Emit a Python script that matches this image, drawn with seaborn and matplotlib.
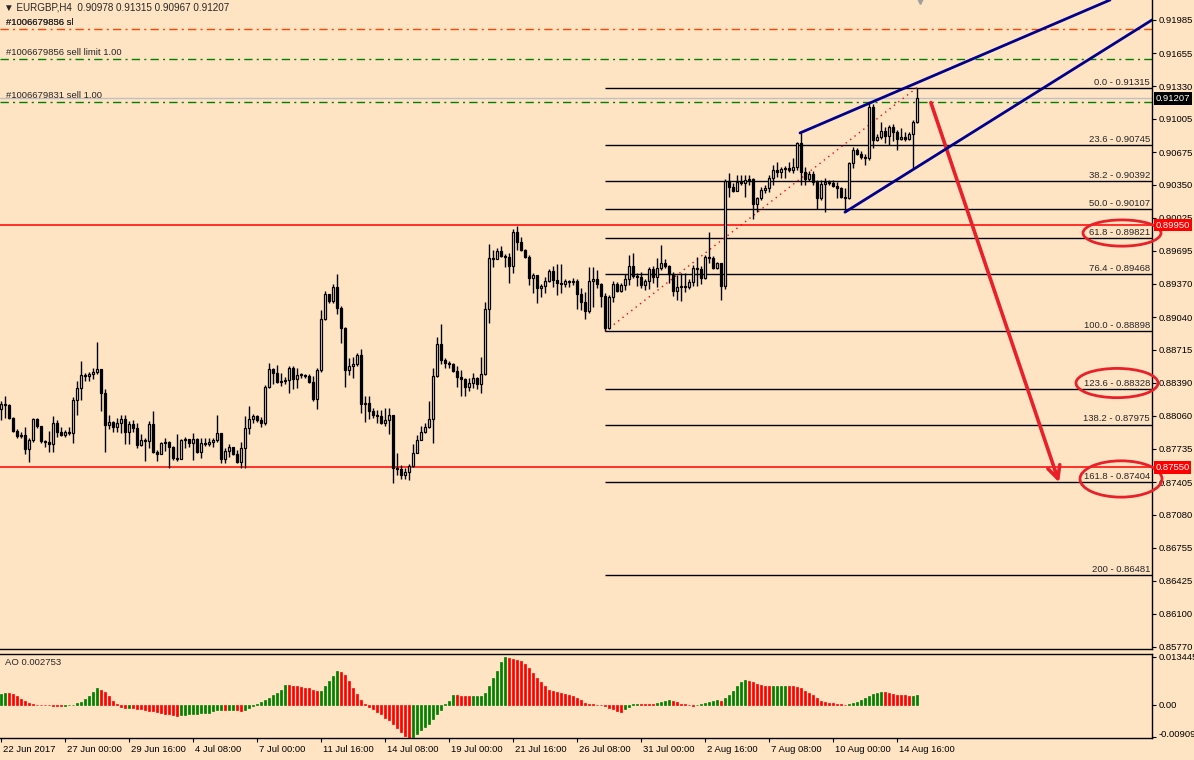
import numpy as np
import pandas as pd
import seaborn as sns
import matplotlib.pyplot as plt
from matplotlib.patches import Ellipse
from matplotlib import transforms

# EURGBP H4, 22 Jun 2017 08:00 .. 15 Aug 2017 12:00 (one value per bar)
open0 = 0.8813
close = [
    0.8818, 0.8817, 0.8804, 0.8791, 0.8786, 0.8787, 0.8773, 0.8782, 0.8803, 0.8796,
    0.8781, 0.8780, 0.8778, 0.8799, 0.8790, 0.8787, 0.8790, 0.8789, 0.8822, 0.8834,
    0.8847, 0.8846, 0.8848, 0.8850, 0.8853, 0.8829, 0.8797, 0.8800, 0.8795, 0.8799,
    0.8803, 0.8790, 0.8798, 0.8794, 0.8777, 0.8782, 0.8781, 0.8798, 0.8770, 0.8768,
    0.8779, 0.8780, 0.8775, 0.8764, 0.8763, 0.8782, 0.8783, 0.8779, 0.8783, 0.8770,
    0.8779, 0.8778, 0.8780, 0.8782, 0.8789, 0.8763, 0.8771, 0.8775, 0.8768, 0.8760,
    0.8774, 0.8794, 0.8803, 0.8806, 0.8802, 0.8799, 0.8835, 0.8853, 0.8849, 0.8840,
    0.8841, 0.8842, 0.8854, 0.8843, 0.8847, 0.8847, 0.8846, 0.8840, 0.8823, 0.8852,
    0.8902, 0.8927, 0.8920, 0.8934, 0.8913, 0.8893, 0.8852, 0.8855, 0.8857, 0.8866,
    0.8818, 0.8819, 0.8811, 0.8807, 0.8806, 0.8799, 0.8802, 0.8807, 0.8754, 0.8753,
    0.8747, 0.8750, 0.8756, 0.8769, 0.8782, 0.8790, 0.8795, 0.8803, 0.8846, 0.8877,
    0.8861, 0.8858, 0.8857, 0.8851, 0.8845, 0.8843, 0.8835, 0.8839, 0.8844, 0.8838,
    0.8848, 0.8912, 0.8963, 0.8962, 0.8969, 0.8965, 0.8964, 0.8955, 0.8988, 0.8978,
    0.8970, 0.8964, 0.8943, 0.8946, 0.8933, 0.8935, 0.8940, 0.8950, 0.8941, 0.8938,
    0.8937, 0.8940, 0.8939, 0.8940, 0.8927, 0.8919, 0.8910, 0.8940, 0.8942, 0.8937,
    0.8925, 0.8893, 0.8924, 0.8937, 0.8930, 0.8936, 0.8942, 0.8955, 0.8945, 0.8944,
    0.8936, 0.8940, 0.8952, 0.8944, 0.8953, 0.8958, 0.8955, 0.8947, 0.8930, 0.8934,
    0.8935, 0.8934, 0.8939, 0.8953, 0.8952, 0.8943, 0.8964, 0.8963, 0.8953, 0.8958,
    0.8935, 0.9039, 0.9033, 0.9029, 0.9038, 0.9037, 0.9040, 0.9041, 0.9016, 0.9022,
    0.9030, 0.9032, 0.9042, 0.9050, 0.9048, 0.9051, 0.9052, 0.9050, 0.9053, 0.9077,
    0.9048, 0.9041, 0.9046, 0.9038, 0.9022, 0.9036, 0.9038, 0.9037, 0.9034, 0.9032,
    0.9023, 0.9022, 0.9057, 0.9070, 0.9066, 0.9063, 0.9062, 0.9112, 0.9080, 0.9082,
    0.9088, 0.9083, 0.9092, 0.9087, 0.9081, 0.9082, 0.9081, 0.9085, 0.90978, 0.91207,
]
high = [
    0.8821, 0.8826, 0.8818, 0.8805, 0.8793, 0.8790, 0.8795, 0.8784, 0.8804, 0.8804,
    0.8792, 0.8782, 0.8791, 0.8806, 0.8802, 0.8795, 0.8792, 0.8795, 0.8825, 0.8841,
    0.8860, 0.8849, 0.8850, 0.8854, 0.8879, 0.8853, 0.8833, 0.8807, 0.8801, 0.8804,
    0.8807, 0.8807, 0.8801, 0.8802, 0.8799, 0.8788, 0.8784, 0.8801, 0.8811, 0.8772,
    0.8780, 0.8784, 0.8781, 0.8776, 0.8788, 0.8783, 0.8785, 0.8782, 0.8789, 0.8784,
    0.8784, 0.8784, 0.8784, 0.8784, 0.8807, 0.8789, 0.8774, 0.8778, 0.8775, 0.8772,
    0.8780, 0.8806, 0.8816, 0.8808, 0.8807, 0.8805, 0.8837, 0.8858, 0.8854, 0.8856,
    0.8849, 0.8845, 0.8855, 0.8855, 0.8854, 0.8849, 0.8848, 0.8848, 0.8846, 0.8854,
    0.8911, 0.8930, 0.8927, 0.8937, 0.8947, 0.8915, 0.8894, 0.8863, 0.8864, 0.8868,
    0.8872, 0.8826, 0.8826, 0.8814, 0.8812, 0.8812, 0.8814, 0.8814, 0.8807, 0.8769,
    0.8757, 0.8754, 0.8758, 0.8778, 0.8787, 0.8796, 0.8799, 0.8821, 0.8854, 0.8884,
    0.8897, 0.8863, 0.8860, 0.8858, 0.8855, 0.8852, 0.8844, 0.8844, 0.8849, 0.8845,
    0.8864, 0.8919, 0.8976, 0.8970, 0.8972, 0.8974, 0.8967, 0.8968, 0.8991, 0.8994,
    0.8983, 0.8971, 0.8966, 0.8948, 0.8946, 0.8937, 0.8944, 0.8952, 0.8955, 0.8957,
    0.8957, 0.8942, 0.8941, 0.8943, 0.8942, 0.8933, 0.8929, 0.8954, 0.8954, 0.8951,
    0.8938, 0.8928, 0.8926, 0.8940, 0.8939, 0.8938, 0.8947, 0.8966, 0.8968, 0.8948,
    0.8949, 0.8942, 0.8954, 0.8955, 0.8963, 0.8975, 0.8962, 0.8956, 0.8949, 0.8946,
    0.8948, 0.8948, 0.8942, 0.8956, 0.8964, 0.8955, 0.8966, 0.8988, 0.8965, 0.8959,
    0.8958, 0.9041, 0.9047, 0.9037, 0.9045, 0.9045, 0.9045, 0.9045, 0.9042, 0.9023,
    0.9033, 0.9035, 0.9045, 0.9055, 0.9058, 0.9053, 0.9054, 0.9058, 0.9062, 0.9078,
    0.9086, 0.9053, 0.9049, 0.9049, 0.9040, 0.9040, 0.9042, 0.9040, 0.9040, 0.9038,
    0.9033, 0.9032, 0.9058, 0.9073, 0.9072, 0.9069, 0.9066, 0.9116, 0.9115, 0.9085,
    0.9097, 0.9092, 0.9094, 0.9095, 0.9089, 0.9091, 0.9087, 0.9087, 0.9099, 0.91315,
]
low = [
    0.8802, 0.8804, 0.8803, 0.8790, 0.8784, 0.8784, 0.8768, 0.8760, 0.8780, 0.8794,
    0.8779, 0.8775, 0.8770, 0.8770, 0.8785, 0.8786, 0.8785, 0.8787, 0.8779, 0.8807,
    0.8822, 0.8841, 0.8841, 0.8843, 0.8848, 0.8811, 0.8770, 0.8793, 0.8790, 0.8790,
    0.8789, 0.8778, 0.8778, 0.8790, 0.8774, 0.8776, 0.8761, 0.8774, 0.8769, 0.8761,
    0.8770, 0.8771, 0.8754, 0.8762, 0.8761, 0.8764, 0.8774, 0.8775, 0.8762, 0.8769,
    0.8764, 0.8776, 0.8776, 0.8775, 0.8780, 0.8759, 0.8759, 0.8765, 0.8767, 0.8759,
    0.8754, 0.8754, 0.8788, 0.8799, 0.8800, 0.8795, 0.8797, 0.8834, 0.8838, 0.8839,
    0.8836, 0.8838, 0.8829, 0.8833, 0.8834, 0.8844, 0.8844, 0.8839, 0.8821, 0.8813,
    0.8850, 0.8901, 0.8918, 0.8918, 0.8907, 0.8878, 0.8835, 0.8847, 0.8844, 0.8855,
    0.8809, 0.8800, 0.8803, 0.8804, 0.8799, 0.8798, 0.8796, 0.8788, 0.8740, 0.8747,
    0.8743, 0.8743, 0.8742, 0.8755, 0.8769, 0.8782, 0.8789, 0.8794, 0.8779, 0.8845,
    0.8857, 0.8854, 0.8854, 0.8850, 0.8835, 0.8826, 0.8826, 0.8831, 0.8834, 0.8833,
    0.8829, 0.8847, 0.8898, 0.8954, 0.8962, 0.8964, 0.8954, 0.8938, 0.8948, 0.8970,
    0.8969, 0.8963, 0.8936, 0.8928, 0.8918, 0.8924, 0.8928, 0.8939, 0.8934, 0.8926,
    0.8928, 0.8934, 0.8934, 0.8936, 0.8912, 0.8911, 0.8902, 0.8908, 0.8914, 0.8933,
    0.8914, 0.88898, 0.8892, 0.8919, 0.8929, 0.8929, 0.8931, 0.8936, 0.8943, 0.8935,
    0.8933, 0.8931, 0.8932, 0.8938, 0.8934, 0.8951, 0.8953, 0.8938, 0.8925, 0.8921,
    0.8920, 0.8929, 0.8932, 0.8935, 0.8935, 0.8937, 0.8942, 0.8958, 0.8952, 0.8952,
    0.8921, 0.8932, 0.9023, 0.9028, 0.9030, 0.9035, 0.9023, 0.9035, 0.9001, 0.9008,
    0.9020, 0.9027, 0.9028, 0.9035, 0.9043, 0.9042, 0.9042, 0.9048, 0.9047, 0.9050,
    0.9035, 0.9035, 0.9039, 0.9035, 0.9011, 0.9020, 0.9008, 0.9035, 0.9033, 0.9022,
    0.9022, 0.9008, 0.9021, 0.9052, 0.9065, 0.9061, 0.9055, 0.9060, 0.9072, 0.9079,
    0.9081, 0.9077, 0.9075, 0.9079, 0.9070, 0.9080, 0.9079, 0.9080, 0.9052, 0.90967,
]
# Awesome Oscillator, in units of 1e-4
ao_e4 = [
    31, 34, 33, 30, 24, 18, 11, 7, 3, 1,
    0.3, -0.3, -1, -2, -3, -3.3, -2, -1, 1, 5,
    9, 17, 26, 36, 47, 43, 36, 24, 12, 3,
    -6, -8, -7, -8.5, -10, -12, -14, -16, -18, -20,
    -22, -24, -26, -29, -30, -28, -27, -26, -25, -24,
    -23, -22, -21, -18, -15, -14, -15, -14, -13, -15,
    -16, -13, -8, -3, 4, 8, 14, 21, 28, 35,
    42, 56, 55, 54, 53, 51, 49, 47, 42, 38,
    40, 52, 66, 80, 94, 93, 83, 66, 47, 30,
    14, 3, -5, -11, -19, -26, -35, -42, -52, -63,
    -75, -86, -91, -90, -80, -70, -61, -52, -38, -26,
    -14, 3, 11, 29, 28.5, 25, 24.5, 24, 25, 25.5,
    26, 33, 52, 75, 94, 120, 134.45, 132, 130, 127,
    122, 115, 103, 91, 77, 64, 52, 42, 39, 37,
    35, 32, 28, 24, 19, 13, 7, 3, 2, 1,
    -1, -3, -7, -12, -16, -18.5, -12.5, -6, 2.5, 3.4,
    3.0, 2.6, 2.4, 2.1, 5, 8.4, 11.8, 13.4, 10.9, 7.6,
    4.2, 1.7, -0.8, -1.7, -0.9, 1.7, 5, 8.4, 10.9, 13.4,
    12.6, 19.3, 27.7, 40.3, 52.9, 65.5, 69.7, 68, 63.8, 59.6,
    56.3, 52.9, 52.1, 52.9, 53.8, 54.2, 54.6, 53.8, 52.9, 50.4,
    47, 40.3, 33.6, 26.9, 18.5, 11.8, 7.6, 5.9, 5, 4.2,
    2.5, -0.8, 1.7, 5, 8.4, 13.4, 20.2, 26, 30.2, 32.8,
    36.1, 35.3, 33.6, 30.2, 28.6, 27.7, 26.9, 24.4, 26, 27.53,
]

date_bars = [0, 16, 32, 48, 64, 80, 96, 112, 128, 144, 160, 176, 192, 208, 224]
date_labels = ["22 Jun 2017", "27 Jun 00:00", "29 Jun 16:00", "4 Jul 08:00", "7 Jul 00:00",
               "11 Jul 16:00", "14 Jul 08:00", "19 Jul 00:00", "21 Jul 16:00", "26 Jul 08:00",
               "31 Jul 00:00", "2 Aug 16:00", "7 Aug 08:00", "10 Aug 00:00", "14 Aug 16:00"]
price_ticks = [0.91985, 0.91655, 0.91330, 0.91005, 0.90675, 0.90350, 0.90025, 0.89695, 0.89370,
               0.89040, 0.88715, 0.88390, 0.88060, 0.87735, 0.87405, 0.87080, 0.86755, 0.86425,
               0.86100, 0.85770]
fib_names = ["0.0", "23.6", "38.2", "50.0", "61.8", "76.4", "100.0", "123.6", "138.2", "161.8", "200"]
fib_prices = [0.91315, 0.90745, 0.90392, 0.90107, 0.89821, 0.89468, 0.88898, 0.88328, 0.87975,
              0.87404, 0.86481]
fib_lo_bar, fib_hi_bar = 151, 229
levels_red = [0.89950, 0.87550]
bid = 0.91207
orders = [("#1006679856 sl", 0.91896, "#FF4500"),
          ("#1006679856 sell limit 1.00", 0.91601, "#008000"),
          ("#1006679831 sell 1.00", 0.91173, "#008000")]
upper_line = [(199.75, 0.90865), (277.25, 0.92183)]
lower_line = [(211.0, 0.90080), (287.75, 0.91985)]
arrow_from, arrow_to = (232.25, 0.91192), (264.75, 0.87375)
circled = [(280.25, 0.89873, 19.5, 0.0026), (279.0, 0.88386, 20.5, 0.0029), (280.0, 0.87435, 20.5, 0.0036)]

bg = "#FFE4C4"
sns.set_style("ticks", {"axes.facecolor": bg, "figure.facecolor": bg})
plt.rcParams['font.family'] = ['Liberation Sans', 'DejaVu Sans']
fs = 6.8

fig = plt.figure(figsize=(11.94, 7.6), dpi=100)
ax = fig.add_axes([0, 1 - 649 / 760, 1152 / 1194, 649 / 760])
ax2 = fig.add_axes([0, 22 / 760, 1152 / 1194, 84 / 760])
xlim = (-0.25, 287.75)

# candles
n = len(close)
idx = np.arange(n)
c = np.array(close)
o = np.array([open0] + close[:-1])
h = np.maximum.reduce([np.array(high), o, c])
l = np.minimum.reduce([np.array(low), o, c])
up = c >= o
ax.vlines(idx, l, h, color="black", lw=1, zorder=4)
ax.bar(idx, np.maximum(np.abs(c - o), 0.00002), bottom=np.minimum(c, o), width=0.55,
       color=np.where(up, bg, "black"), edgecolor="black", linewidth=0.9, zorder=5)

# horizontal levels
for p in levels_red:
    ax.axhline(p, color="red", lw=1.1, zorder=2)
ax.axhline(bid, color="#C0C0C0", lw=1, zorder=2)
for txt, p, col in orders:
    ax.axhline(p, color=col, lw=1, ls=(0, (6, 3, 1.5, 3)), zorder=2)
    ax.text(1.2, p + 0.0002, txt, fontsize=fs, va="bottom", ha="left")
ax.text(1.2, orders[0][1] + 0.0002, "#1006679836 sl", fontsize=fs, va="bottom", ha="left")

# fibonacci
ax.hlines(fib_prices, fib_lo_bar, xlim[1], colors="black", lw=1, zorder=2)
for name, p in zip(fib_names, fib_prices):
    ax.text(xlim[1] - 0.5, p + 0.0001, f"{name} - {p:.5f}", fontsize=fs, ha="right", va="bottom")
sns.lineplot(x=[fib_lo_bar, fib_hi_bar], y=[low[fib_lo_bar], high[fib_hi_bar]], color="red",
             lw=1, linestyle=(0, (1, 3)), ax=ax, zorder=3)

# channel lines
for line in (upper_line, lower_line):
    ax.plot([line[0][0], line[1][0]], [line[0][1], line[1][1]], color="#00008B", lw=2, zorder=6)

ax.annotate("", xy=arrow_to, xytext=arrow_from,
            arrowprops=dict(arrowstyle="->,head_length=0.9,head_width=0.45", color="#E8202A", lw=2.6))
for cx, cy, w, hh in circled:
    ax.add_patch(Ellipse((cx, cy), w, hh, fill=False, ec="#E8202A", lw=2, clip_on=False, zorder=7))

ax.set_xlim(*xlim)
ax.set_ylim(0.92183 - 649 / 10088, 0.92183)
ax.set_xticks([])
ax.yaxis.tick_right()
ax.set_yticks(price_ticks)
ax.set_yticklabels([f"{t:.5f}" for t in price_ticks])
ax.tick_params(axis="y", labelsize=fs, length=3, width=0.8, pad=2, colors="black")
for s in ("top", "left"):
    ax.spines[s].set_visible(False)
for s in ("right", "bottom"):
    ax.spines[s].set_color("black")
    ax.spines[s].set_linewidth(1)
ax.plot([229.75], [0.92183], marker="v", color="#A0A0A0", ms=6, clip_on=False, zorder=8)

# price boxes on the right scale
blend = transforms.blended_transform_factory(ax.transAxes, ax.transData)
for p, fc in [(bid, "black"), (levels_red[0], "red"), (levels_red[1], "red")]:
    ax.text(1.003, p, f"{p:.5f}", transform=blend, fontsize=fs, color="white", ha="left", va="center",
            bbox=dict(boxstyle="square,pad=0.18", fc=fc, ec="none"), zorder=10)

fig.text(4 / 1194, 1 - 7 / 760, "\u25bc EURGBP,H4  0.90978 0.91315 0.90967 0.91207", fontsize=fs + 0.3,
         va="center", ha="left")

# Awesome Oscillator
ao = np.array(ao_e4) * 1e-4
dirs = ["up"] + ["up" if ao[i] > ao[i - 1] else "down" for i in range(1, n)]
ao_df = pd.DataFrame({"bar": idx, "ao": ao, "dir": dirs})
sns.barplot(data=ao_df, x="bar", y="ao", hue="dir", palette={"up": "#008000", "down": "#FF0000"},
            native_scale=True, dodge=False, width=0.6, saturation=1, errorbar=None, legend=False,
            linewidth=0, ax=ax2)
# MT4 draws even the tiny values at least one pixel tall
for bar in ax2.patches:
    bar.set_edgecolor(bar.get_facecolor())
    bar.set_linewidth(0.5)
ax2.set_xlim(*xlim)
ax2.set_ylim(-0.00924, 0.01428)
ax2.set_xlabel("")
ax2.set_ylabel("")
ax2.yaxis.tick_right()
ax2.set_yticks([0.013445, 0.0, -0.00909])
ax2.set_yticklabels(["0.013445", "0.00", "-0.00909"])
ax2.set_xticks(date_bars)
ax2.set_xticklabels(date_labels, ha="left")
ax2.tick_params(labelsize=fs, length=3, width=0.8, pad=2, colors="black")
offset = transforms.ScaledTranslation(2 / 100, 0, fig.dpi_scale_trans)
for lbl in ax2.get_xticklabels():
    lbl.set_transform(lbl.get_transform() + offset)
ax2.get_yticklabels()[2].set_transform(ax2.get_yticklabels()[2].get_transform()
                                       + transforms.ScaledTranslation(0, 4 / 100, fig.dpi_scale_trans))
ax2.spines["left"].set_visible(False)
for s in ("top", "right", "bottom"):
    ax2.spines[s].set_color("black")
    ax2.spines[s].set_linewidth(1)
ax2.text(0.004, 0.9, "AO 0.002753", transform=ax2.transAxes, fontsize=fs, va="center", ha="left")

fig.savefig("out.png", dpi=100)
